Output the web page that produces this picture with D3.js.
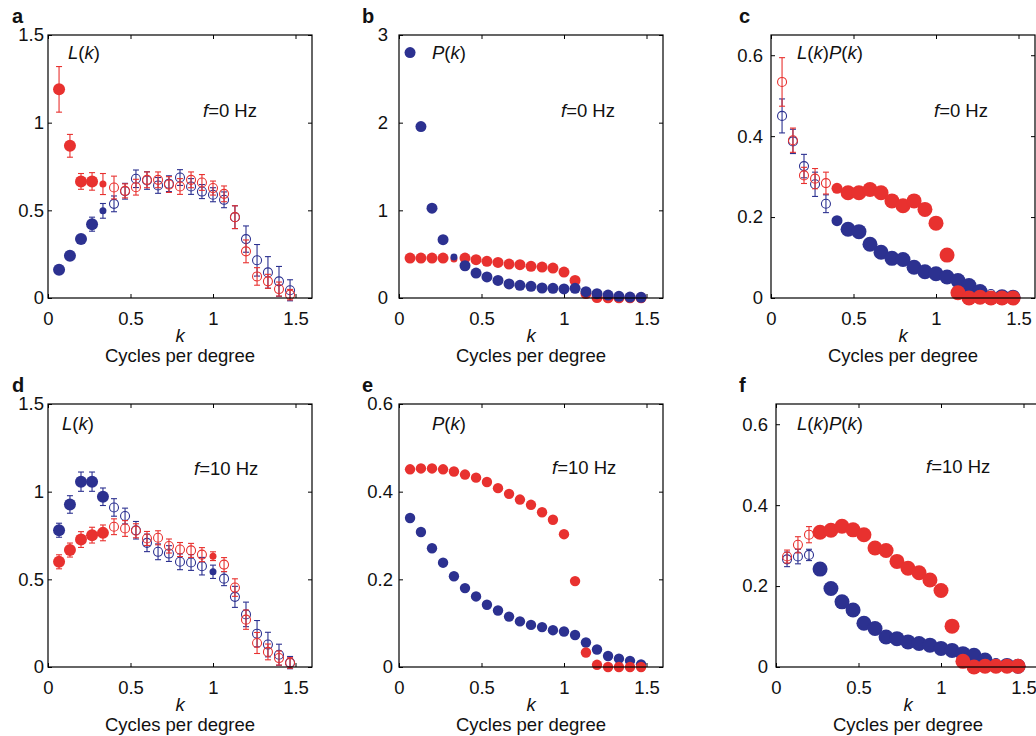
<!DOCTYPE html>
<html><head><meta charset="utf-8">
<script src="https://cdn.jsdelivr.net/npm/d3@7"></script>
<style>
body{margin:0;background:#fff;}
text{font-family:"Liberation Sans", Arial, Helvetica, sans-serif;fill:#111;}
</style></head><body>
<svg id="chart" width="1036" height="736"></svg>
<script>
// spatial frequency k (cycles per degree)
const kValues = [0.067,0.133,0.2,0.267,0.333,0.4,0.467,0.533,0.6,0.667,0.733,0.8,0.867,0.933,1.0,1.067,1.133,1.2,1.267,1.333,1.4,1.467];
const xTicks = [0,0.5,1,1.5];

// marker types: F large filled, M medium filled, s small filled, o open
// panel a: L(k), f=0 Hz
const aRed     = [1.19,0.868,0.665,0.665,0.65,0.63,0.611,0.632,0.674,0.674,0.647,0.636,0.674,0.659,0.627,0.594,0.461,0.266,0.123,0.095,0.051,0.019];
const aRedErr  = [0.13,0.065,0.045,0.05,0.06,0.065,0.04,0.045,0.045,0.045,0.045,0.045,0.045,0.045,0.04,0.045,0.065,0.065,0.05,0.04,0.04,0.03];
const aRedType = "FFFFsooooooooooooooooo";
const aBlue    = [0.161,0.241,0.336,0.421,0.497,0.537,0.609,0.68,0.67,0.642,0.652,0.687,0.636,0.607,0.589,0.56,0.461,0.336,0.215,0.146,0.095,0.044];
const aBlueErr = [0,0,0,0.04,0.042,0.045,0.045,0.05,0.05,0.045,0.045,0.045,0.045,0.04,0.04,0.045,0.065,0.075,0.09,0.09,0.085,0.06];
const aBlueType= "FFFFsooooooooooooooooo";

// panel b: P(k), f=0 Hz
const bRed     = [0.456,0.456,0.456,0.456,0.444,0.456,0.437,0.418,0.406,0.387,0.38,0.361,0.353,0.342,0.296,0.2,0.05,0.005,0.002,0.002,0.002,0.002];
const bRedType = "FFFFsFFFFFFFFFFFFFFFFF";
const bBlue    = [2.8,1.956,1.025,0.665,0.467,0.368,0.285,0.24,0.2,0.16,0.145,0.133,0.114,0.11,0.103,0.11,0.072,0.049,0.034,0.019,0.011,0.008];
const bBlueType= "FFFFsFFFFFFFFFFFFFFFFF";

// panel c: L(k)P(k), f=0 Hz
const cRed     = [0.534,0.39,0.303,0.295,0.284,0.271,0.26,0.26,0.268,0.26,0.24,0.228,0.24,0.219,0.185,0.106,0.013,0,0.002,0,0,0];
const cRedErr  = [0.06,0.03,0.02,0.025,0.027,0,0,0,0,0,0,0,0,0,0,0,0,0,0,0,0,0];
const cRedType = "oooooMFFFFFFFFFFFFFFFF";
const cBlue    = [0.45,0.387,0.326,0.281,0.233,0.191,0.17,0.164,0.133,0.113,0.098,0.095,0.076,0.065,0.06,0.052,0.043,0.031,0.016,0.01,0.003,0.002];
const cBlueErr = [0.042,0.03,0.029,0.03,0.022,0,0,0,0,0,0,0,0,0,0,0,0,0,0,0,0,0];
const cBlueType= "oooooMFFFFFFFFFFFFFoFF";

// panel d: L(k), f=10 Hz
const dRed     = [0.6,0.667,0.727,0.752,0.765,0.8,0.79,0.777,0.733,0.737,0.69,0.67,0.665,0.641,0.632,0.584,0.453,0.27,0.137,0.086,0.051,0.023];
const dRedErr  = [0.04,0.04,0.045,0.045,0.045,0.045,0.045,0.04,0.04,0.04,0.04,0.04,0.04,0.04,0.025,0.04,0.05,0.055,0.06,0.045,0.04,0.03];
const dRedType = "FFFFFooooooooosooooooo";
const dBlue    = [0.78,0.927,1.057,1.057,0.971,0.91,0.861,0.78,0.708,0.657,0.647,0.6,0.596,0.575,0.543,0.504,0.4,0.3,0.19,0.128,0.07,0.025];
const dBlueErr = [0.04,0.05,0.055,0.055,0.05,0.05,0.045,0.05,0.05,0.045,0.045,0.045,0.045,0.05,0.038,0.04,0.06,0.07,0.075,0.07,0.06,0.035];
const dBlueType= "FFFFFooooooooosooooooo";

// panel e: P(k), f=10 Hz
const eRed     = [0.451,0.453,0.453,0.451,0.446,0.439,0.432,0.422,0.408,0.395,0.382,0.37,0.353,0.336,0.303,0.196,0.033,0.005,0,0,0,0];
const eRedType = "FFFFFFFFFFFFFFFFFFFFFF";
const eBlue    = [0.34,0.308,0.271,0.238,0.207,0.18,0.161,0.142,0.129,0.115,0.104,0.096,0.091,0.084,0.081,0.073,0.056,0.04,0.025,0.019,0.014,0.006];
const eBlueType= "FFFFFFFFFFFFFFFFFFFFFF";

// panel f: L(k)P(k), f=10 Hz
const fRed     = [0.273,0.302,0.327,0.333,0.338,0.348,0.339,0.327,0.294,0.288,0.261,0.244,0.233,0.215,0.189,0.101,0.014,0,0.002,0.002,0.002,0.002];
const fRedErr  = [0.016,0.02,0.02,0,0,0,0,0,0,0,0,0,0,0,0,0,0,0,0,0,0,0];
const fRedType = "oooFFFFFFFFFFFFFFFFFFF";
const fBlue    = [0.266,0.273,0.277,0.242,0.194,0.161,0.141,0.108,0.095,0.074,0.07,0.062,0.058,0.054,0.046,0.041,0.033,0.029,0.017,0.01,0.004,0.002];
const fBlueErr = [0.018,0.018,0.014,0,0,0,0,0,0,0,0,0,0,0,0,0,0,0,0,0,0,0];
const fBlueType= "oooFFFFFFFFFFFFFFFFoFF";

const RED = "#e8312f", BLUE = "#2c3190";
const W = 264, H = 263;
const FS = 18.5;

const panels = [
  {letter:"a", lx:12, ly:23, left:48, top:35, yMax:1.5, yTicks:[0,0.5,1,1.5], gap:4,
   title:[["L",1],["(",0],["k",1],[")",0]], tx:20, ty:24, fText:"0", fx:155, fy:82,
   series:[{v:aBlue,e:aBlueErr,t:aBlueType,c:BLUE},{v:aRed,e:aRedErr,t:aRedType,c:RED}],
   r:{F:6,M:5,s:3.5,o:4.5}},
  {letter:"b", lx:362, ly:23, left:399, top:35, yMax:3, yTicks:[0,1,2,3], gap:11,
   title:[["P",1],["(",0],["k",1],[")",0]], tx:33, ty:24, fText:"0", fx:162, fy:82,
   series:[{v:bRed,e:null,t:bRedType,c:RED},{v:bBlue,e:null,t:bBlueType,c:BLUE}],
   r:{F:5.5,M:5,s:3.5,o:4.5}},
  {letter:"c", lx:739, ly:23, left:771, top:35, yMax:0.65, yTicks:[0,0.2,0.4,0.6], gap:8,
   title:[["L",1],["(",0],["k",1],[")",0],["P",1],["(",0],["k",1],[")",0]], tx:26, ty:24, fText:"0", fx:163, fy:82,
   series:[{v:cBlue,e:cBlueErr,t:cBlueType,c:BLUE},{v:cRed,e:cRedErr,t:cRedType,c:RED}],
   r:{F:7.5,M:5.5,s:3.5,o:4.5}},
  {letter:"d", lx:12, ly:392, left:48, top:404, yMax:1.5, yTicks:[0,0.5,1,1.5], gap:4,
   title:[["L",1],["(",0],["k",1],[")",0]], tx:14, ty:26, fText:"10", fx:146, fy:71,
   series:[{v:dBlue,e:dBlueErr,t:dBlueType,c:BLUE},{v:dRed,e:dRedErr,t:dRedType,c:RED}],
   r:{F:6,M:5,s:3.5,o:4.5}},
  {letter:"e", lx:362, ly:392, left:399, top:404, yMax:0.6, yTicks:[0,0.2,0.4,0.6], gap:6,
   title:[["P",1],["(",0],["k",1],[")",0]], tx:33, ty:26, fText:"10", fx:153, fy:70,
   series:[{v:eBlue,e:null,t:eBlueType,c:BLUE},{v:eRed,e:null,t:eRedType,c:RED}],
   r:{F:5.2,M:5,s:3.5,o:4.5}},
  {letter:"f", lx:739, ly:392, left:776, top:404, yMax:0.65, yTicks:[0,0.2,0.4,0.6], gap:8,
   title:[["L",1],["(",0],["k",1],[")",0],["P",1],["(",0],["k",1],[")",0]], tx:21, ty:26, fText:"10", fx:150, fy:69,
   series:[{v:fBlue,e:fBlueErr,t:fBlueType,c:BLUE},{v:fRed,e:fRedErr,t:fRedType,c:RED}],
   r:{F:7.5,M:5.5,s:3.5,o:4.5}}
];

const svg = d3.select("#chart");
svg.append("rect").attr("width",1036).attr("height",736).attr("fill","#fff");
const fmt = d => String(d);

panels.forEach(p => {
  svg.append("text").attr("x",p.lx).attr("y",p.ly).attr("font-size",20).attr("font-weight","bold").text(p.letter);
  const g = svg.append("g").attr("transform",`translate(${p.left},${p.top})`);
  const x = d3.scaleLinear().domain([0,1.6]).range([0,W]);
  const y = d3.scaleLinear().domain([0,p.yMax]).range([H,0]);

  const styleAxis = sel => {
    sel.select(".domain").remove();
    sel.selectAll(".tick line").attr("stroke","#000").attr("stroke-width",1);
    sel.selectAll(".tick text").attr("font-size",FS).attr("fill","#111")
       .attr("font-family",'"Liberation Sans", Arial, sans-serif');
  };
  g.append("g").attr("transform",`translate(0,${H})`)
    .call(d3.axisBottom(x).tickValues(xTicks).tickSize(-4).tickSizeOuter(0).tickPadding(13.5).tickFormat(fmt))
    .call(styleAxis);
  g.append("g")
    .call(d3.axisTop(x).tickValues(xTicks).tickSize(-4).tickSizeOuter(0).tickFormat(""))
    .call(styleAxis);
  g.append("g")
    .call(d3.axisLeft(y).tickValues(p.yTicks).tickSize(-4).tickSizeOuter(0).tickPadding(p.gap).tickFormat(fmt))
    .call(styleAxis);
  g.append("g").attr("transform",`translate(${W},0)`)
    .call(d3.axisRight(y).tickValues(p.yTicks).tickSize(-4).tickSizeOuter(0).tickFormat(""))
    .call(styleAxis);

  p.series.forEach(s => {
    const data = kValues.map((k,i) => ({k, v:s.v[i], e:s.e ? s.e[i] : 0, t:s.t[i]}));
    const eb = g.append("g").attr("stroke",s.c).attr("stroke-width",1.1).attr("fill","none");
    data.filter(d => d.e > 0).forEach(d => {
      const cx = x(d.k), y1 = y(d.v - d.e), y2 = y(d.v + d.e);
      eb.append("line").attr("x1",cx).attr("x2",cx).attr("y1",y1).attr("y2",y2);
      eb.append("line").attr("x1",cx-3).attr("x2",cx+3).attr("y1",y1).attr("y2",y1);
      eb.append("line").attr("x1",cx-3).attr("x2",cx+3).attr("y1",y2).attr("y2",y2);
    });
    g.append("g").selectAll("circle").data(data).join("circle")
      .attr("cx",d => x(d.k)).attr("cy",d => y(d.v))
      .attr("r",d => p.r[d.t])
      .attr("fill",d => d.t === "o" ? "none" : s.c)
      .attr("stroke",s.c)
      .attr("stroke-width",d => d.t === "o" ? 1.1 : 0);
  });

  g.append("rect").attr("width",W).attr("height",H).attr("fill","none").attr("stroke","#000").attr("stroke-width",1.2);

  const t = g.append("text").attr("x",p.tx).attr("y",p.ty).attr("font-size",FS);
  p.title.forEach(([s,it]) => t.append("tspan").attr("font-style",it ? "italic" : "normal").text(s));

  const ft = g.append("text").attr("x",p.fx).attr("y",p.fy).attr("font-size",FS);
  ft.append("tspan").attr("font-style","italic").text("f");
  ft.append("tspan").text("=" + p.fText + " Hz");

  g.append("text").attr("x",W/2).attr("y",H+43.5).attr("text-anchor","middle").attr("font-size",FS).attr("font-style","italic").text("k");
  g.append("text").attr("x",W/2).attr("y",H+64).attr("text-anchor","middle").attr("font-size",FS).text("Cycles per degree");
});
</script>
</body></html>
